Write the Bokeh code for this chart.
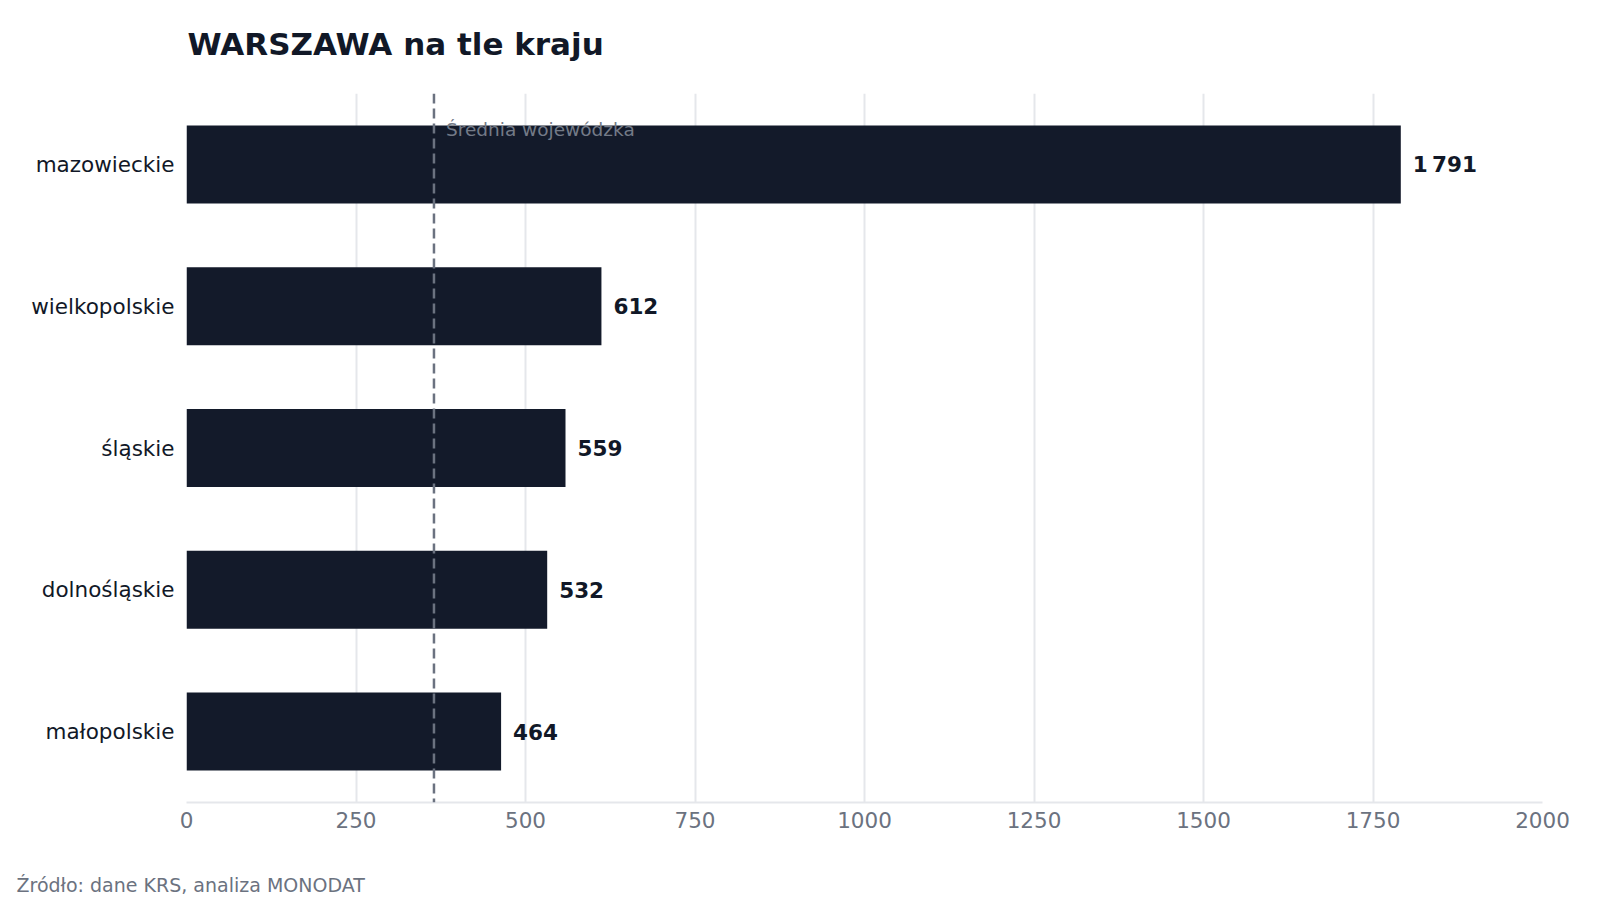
from bokeh.core.properties import value
from bokeh.embed import file_html
from bokeh.models import ColumnDataSource, FactorRange, Label, Range1d, Span
from bokeh.plotting import figure
from bokeh.resources import INLINE
from bokeh.transform import dodge

# Data
regions = ["mazowieckie", "wielkopolskie", "śląskie", "dolnośląskie", "małopolskie"]
counts = [1791, 612, 559, 532, 464]
average = 365
x_ticks = [0, 250, 500, 750, 1000, 1250, 1500, 1750, 2000]

FONT = "DejaVu Sans"
DARK = "#111827"
BAR = "#131a2a"
GREY = "#6b7280"
LIGHT = "#e5e7eb"

source = ColumnDataSource(dict(
    region=regions,
    count=counts,
    label=[f"{c:,}".replace(",", "\u2009") for c in counts],
))

p = figure(width=1600, height=900, output_backend="svg", toolbar_location=None, tools="",
           y_range=FactorRange(factors=regions[::-1]), x_range=Range1d(0, 2000),
           min_border_left=186, min_border_right=58, min_border_top=93, min_border_bottom=98)
p.outline_line_color = None
p.background_fill_color = "white"
p.border_fill_color = "white"

p.hbar(y="region", right="count", left=0, height=0.55, source=source,
       fill_color=BAR, line_color=None)

p.text(x="count", y="region", text="label", source=source, x_offset=12,
       text_font=value(FONT), text_font_size="21.5px", text_font_style="bold",
       text_color=DARK, text_align="left", text_baseline="middle")

# average line
p.add_layout(Span(location=average, dimension="height", line_color=GREY,
                  line_width=2.5, line_dash="10 5"))
avg_source = ColumnDataSource(dict(x=[average], y=[regions[0]], text=["Średnia wojewódzka"]))
p.text(x="x", y=dodge("y", 0.245, range=p.y_range), text="text", source=avg_source, x_offset=12,
       text_font=value(FONT), text_font_size="18.5px", text_color="#737a87",
       text_align="left", text_baseline="middle")

# axes
p.xaxis.ticker = x_ticks
p.xaxis.axis_line_color = LIGHT
p.xaxis.axis_line_width = 2
p.xaxis.major_tick_line_color = None
p.xaxis.major_tick_out = 0
p.xaxis.minor_tick_line_color = None
p.xaxis.major_label_text_font = FONT
p.xaxis.major_label_text_font_size = "21.5px"
p.xaxis.major_label_text_color = GREY
p.xaxis.major_label_standoff = 9

p.yaxis.axis_line_color = None
p.yaxis.major_tick_line_color = None
p.yaxis.major_tick_out = 0
p.yaxis.minor_tick_line_color = None
p.yaxis.major_label_text_font = FONT
p.yaxis.major_label_text_font_size = "21.5px"
p.yaxis.major_label_text_color = DARK
p.yaxis.major_label_standoff = 12

p.xgrid.grid_line_color = LIGHT
p.xgrid.grid_line_width = 2
p.ygrid.grid_line_color = None

# title and source note, in canvas pixels
p.add_layout(Label(x=187, y=43, x_units="canvas", y_units="canvas",
                   text="WARSZAWA na tle kraju", text_font=FONT, text_font_size="31px",
                   text_font_style="bold", text_color=DARK, text_baseline="middle"), "above")
p.add_layout(Label(x=16, y=884, x_units="canvas", y_units="canvas",
                   text="Źródło: dane KRS, analiza MONODAT", text_font=FONT,
                   text_font_size="19px", text_color=GREY, text_baseline="middle"), "below")

open("out.html", "w").write(file_html(p, INLINE))
